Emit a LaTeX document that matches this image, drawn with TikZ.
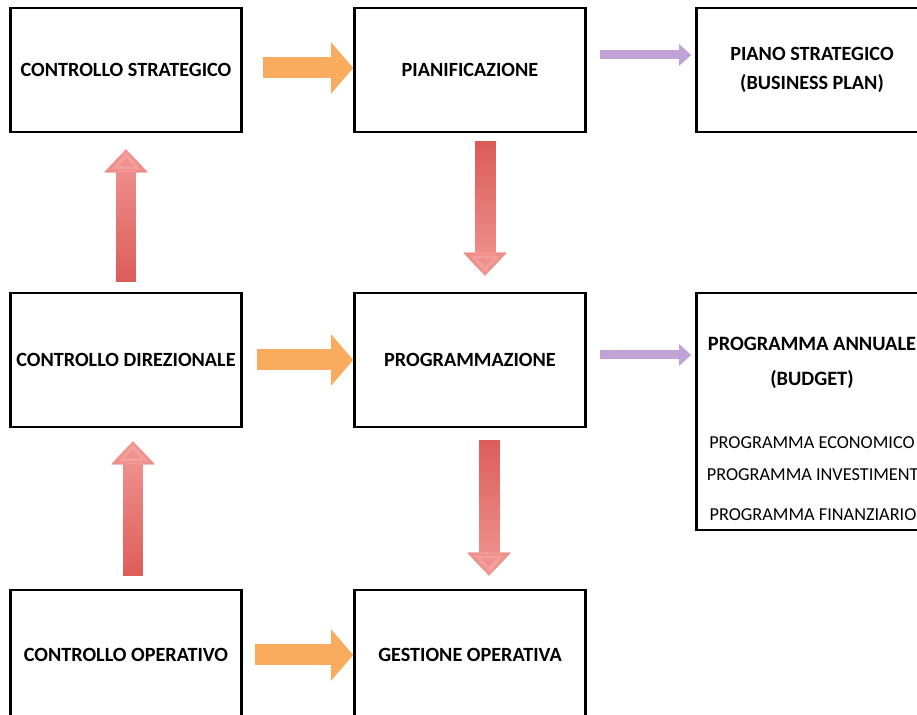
\documentclass[tikz,border=0pt]{standalone}
\usepackage{fontspec}
\setmainfont{Carlito}
\usetikzlibrary{calc}
\usetikzlibrary{arrows.meta}
\usetikzlibrary{fadings}

\definecolor{arrorange}{HTML}{F9AB5E}
\definecolor{reddark}{HTML}{D8544F}
\definecolor{redlight}{HTML}{F6A3A0}
\definecolor{arrpurple}{HTML}{C2A3D8}

\tikzset{
  box/.style={draw, line width=1.5pt, minimum width=4.62cm, minimum height=2.48cm,
    align=center, font=\bfseries\fontsize{11.5}{16.5}\selectfont},
  orangearrow/.style={line width=0.42cm, arrorange, -{Triangle[width=1.0cm,length=0.44cm]}},
  redarrow/.style={line width=0.42cm, reddark, -{Triangle[width=0.84cm,length=0.46cm]},
    postaction={draw, redlight, path fading=#1}},
  purplearrow/.style={line width=0.18cm, arrpurple, -{Triangle[width=0.42cm,length=0.24cm]}},
  subline/.style={font=\fontsize{10.4}{12}\selectfont}
}

\begin{document}
\begin{tikzpicture}[x=0.02cm, y=-0.02cm]
            \clip (0,0) rectangle (917,715);

            % Boxes, first row
            \node[box] (cs) at (126,70) {CONTROLLO STRATEGICO};
            \node[box] (pian) at (470,70) {PIANIFICAZIONE};
            \node[box] (piano) at (812,70) {PIANO STRATEGICO\\(BUSINESS PLAN)};

            % Boxes, second row
            \node[box, minimum height=2.68cm] (cd) at (126,360) {CONTROLLO DIREZIONALE};
            \node[box, minimum height=2.68cm] (prog) at (470,360) {PROGRAMMAZIONE};
            \node[box, minimum height=4.74cm] (budget) at (812,411.5) {};
            \node[font=\bfseries\fontsize{11.6}{20}\selectfont, align=center] (bt) at (812,362.5) {PROGRAMMA ANNUALE\\(BUDGET)};
            \node[subline] (pe) at (812,443) {PROGRAMMA ECONOMICO};
            \node[subline] (pi) at (815,475) {PROGRAMMA INVESTIMENTI};
            \node[subline] (pf) at (813,515) {PROGRAMMA FINANZIARIO};

            % Boxes, third row
            \node[box, minimum height=2.6cm] (co) at (126,655) {CONTROLLO OPERATIVO};
            \node[box, minimum height=2.6cm] (go) at (470,655) {GESTIONE OPERATIVA};

            % Orange arrows
            \draw[orangearrow, shorten <=0.4cm] ($(cs.east)+(0,-2)$) -- ($(pian.west)+(0,-2)$);
            \draw[orangearrow, shorten <=0.28cm] (cd.east) -- (prog.west);
            \draw[orangearrow, shorten <=0.24cm] (co.east) -- (go.west);

            % Purple arrows
            \draw[purplearrow, shorten <=0.26cm, shorten >=0.08cm] ($(pian.east)+(0,-15)$) -- ($(piano.west)+(0,-15)$);
            \draw[purplearrow, shorten <=0.26cm, shorten >=0.08cm] ($(prog.east)+(0,-5)$) -- ($(prog.east -| budget.west)+(0,-5)$);

            % Red arrows
            \draw[redarrow=north, shorten <=0.16cm, shorten >=0.32cm] ($(pian.south)+(15,0)$) -- ($(prog.north)+(15,0)$);
            \draw[redarrow=north, shorten <=0.24cm, shorten >=0.26cm] ($(prog.south)+(19,0)$) -- ($(go.north)+(19,0)$);
            \draw[redarrow=south, shorten <=0.2cm, shorten >=0.32cm] (cd.north) -- (cs.south);
            \draw[redarrow=south, shorten <=0.26cm, shorten >=0.26cm] ($(co.north)+(7,0)$) -- ($(cd.south)+(7,0)$);
        \end{tikzpicture}
\end{document}
